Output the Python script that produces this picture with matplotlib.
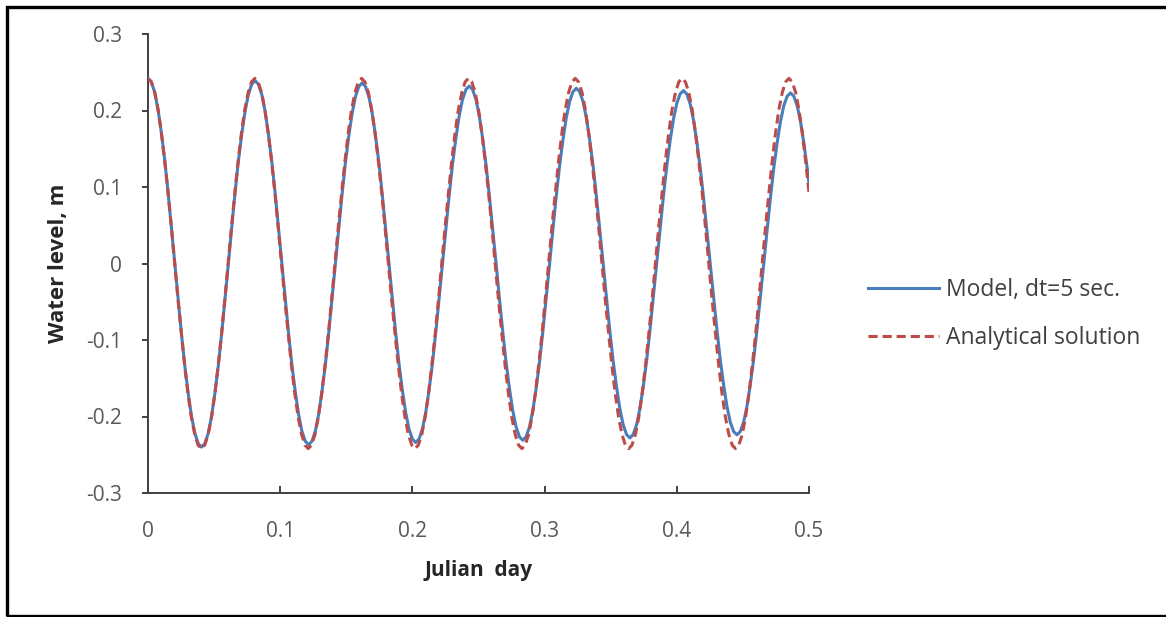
import matplotlib
matplotlib.use("Agg")
import matplotlib.pyplot as plt
from matplotlib.patches import Rectangle

plt.rcParams['font.family'] = ['Open Sans', 'DejaVu Sans']

# model output, dt = 5 s
model_t = [
    0.0000, 0.0025, 0.0051, 0.0076, 0.0101, 0.0127, 0.0152, 0.0177,
    0.0203, 0.0228, 0.0253, 0.0278, 0.0304, 0.0329, 0.0354, 0.0380,
    0.0405, 0.0430, 0.0456, 0.0481, 0.0506, 0.0532, 0.0557, 0.0582,
    0.0608, 0.0633, 0.0658, 0.0683, 0.0709, 0.0734, 0.0759, 0.0785,
    0.0810, 0.0835, 0.0861, 0.0886, 0.0911, 0.0937, 0.0962, 0.0987,
    0.1013, 0.1038, 0.1063, 0.1088, 0.1114, 0.1139, 0.1164, 0.1190,
    0.1215, 0.1240, 0.1266, 0.1291, 0.1316, 0.1342, 0.1367, 0.1392,
    0.1418, 0.1443, 0.1468, 0.1493, 0.1519, 0.1544, 0.1569, 0.1595,
    0.1620, 0.1645, 0.1671, 0.1696, 0.1721, 0.1747, 0.1772, 0.1797,
    0.1823, 0.1848, 0.1873, 0.1898, 0.1924, 0.1949, 0.1974, 0.2000,
    0.2025, 0.2050, 0.2076, 0.2101, 0.2126, 0.2152, 0.2177, 0.2202,
    0.2228, 0.2253, 0.2278, 0.2303, 0.2329, 0.2354, 0.2379, 0.2405,
    0.2430, 0.2455, 0.2481, 0.2506, 0.2531, 0.2557, 0.2582, 0.2607,
    0.2633, 0.2658, 0.2683, 0.2708, 0.2734, 0.2759, 0.2784, 0.2810,
    0.2835, 0.2860, 0.2886, 0.2911, 0.2936, 0.2962, 0.2987, 0.3012,
    0.3038, 0.3063, 0.3088, 0.3113, 0.3139, 0.3164, 0.3189, 0.3215,
    0.3240, 0.3265, 0.3291, 0.3316, 0.3341, 0.3367, 0.3392, 0.3417,
    0.3443, 0.3468, 0.3493, 0.3518, 0.3544, 0.3569, 0.3594, 0.3620,
    0.3645, 0.3670, 0.3696, 0.3721, 0.3746, 0.3772, 0.3797, 0.3822,
    0.3848, 0.3873, 0.3898, 0.3923, 0.3949, 0.3974, 0.3999, 0.4025,
    0.4050, 0.4075, 0.4101, 0.4126, 0.4151, 0.4177, 0.4202, 0.4227,
    0.4253, 0.4278, 0.4303, 0.4328, 0.4354, 0.4379, 0.4404, 0.4430,
    0.4455, 0.4480, 0.4506, 0.4531, 0.4556, 0.4582, 0.4607, 0.4632,
    0.4658, 0.4683, 0.4708, 0.4733, 0.4759, 0.4784, 0.4809, 0.4835,
    0.4860, 0.4885, 0.4911, 0.4936, 0.4961, 0.4987, 0.5000,
]
model_h = [
    0.242, 0.2374, 0.2236, 0.2012, 0.1711, 0.1345, 0.0926, 0.0472, 0.0,
    -0.0468, -0.0918, -0.1333, -0.1697, -0.1996, -0.2217, -0.2354, -0.240,
    -0.2354, -0.2217, -0.1996, -0.1697, -0.1333, -0.0918, -0.0468, 0.0,
    0.0466, 0.0915, 0.1328, 0.1690, 0.1987, 0.2208, 0.2344, 0.239,
    0.2344, 0.2208, 0.1987, 0.1690, 0.1328, 0.0915, 0.0466, 0.0,
    -0.0462, -0.0907, -0.1317, -0.1676, -0.1971, -0.2190, -0.2324, -0.237,
    -0.2324, -0.2190, -0.1971, -0.1676, -0.1317, -0.0907, -0.0462, 0.0,
    0.0460, 0.0903, 0.1311, 0.1669, 0.1962, 0.2180, 0.2315, 0.236,
    0.2315, 0.2180, 0.1962, 0.1669, 0.1311, 0.0903, 0.0460, 0.0,
    -0.0457, -0.0896, -0.1300, -0.1655, -0.1946, -0.2162, -0.2295, -0.234,
    -0.2295, -0.2162, -0.1946, -0.1655, -0.1300, -0.0896, -0.0457, 0.0,
    0.0453, 0.0888, 0.1289, 0.1640, 0.1929, 0.2143, 0.2275, 0.232,
    0.2275, 0.2143, 0.1929, 0.1640, 0.1289, 0.0888, 0.0453, 0.0,
    -0.0451, -0.0884, -0.1283, -0.1633, -0.1921, -0.2134, -0.2266, -0.231,
    -0.2266, -0.2134, -0.1921, -0.1633, -0.1283, -0.0884, -0.0451, 0.0,
    0.0447, 0.0876, 0.1272, 0.1619, 0.1904, 0.2116, 0.2246, 0.229,
    0.2246, 0.2116, 0.1904, 0.1619, 0.1272, 0.0876, 0.0447, 0.0,
    -0.0445, -0.0873, -0.1267, -0.1612, -0.1896, -0.2106, -0.2236, -0.228,
    -0.2236, -0.2106, -0.1896, -0.1612, -0.1267, -0.0873, -0.0445, 0.0,
    0.0441, 0.0865, 0.1256, 0.1598, 0.1879, 0.2088, 0.2217, 0.226,
    0.2217, 0.2088, 0.1879, 0.1598, 0.1256, 0.0865, 0.0441, 0.0,
    -0.0437, -0.0857, -0.1245, -0.1584, -0.1863, -0.2070, -0.2197, -0.224,
    -0.2197, -0.2070, -0.1863, -0.1584, -0.1245, -0.0857, -0.0437, 0.0,
    0.0435, 0.0853, 0.1239, 0.1577, 0.1854, 0.2060, 0.2187, 0.223,
    0.2187, 0.2060, 0.1854, 0.1577, 0.1239, 0.104,
]

# analytical solution
exact_t = [
    0.0000, 0.0025, 0.0051, 0.0076, 0.0101, 0.0126, 0.0152, 0.0177,
    0.0202, 0.0227, 0.0253, 0.0278, 0.0303, 0.0328, 0.0354, 0.0379,
    0.0404, 0.0429, 0.0455, 0.0480, 0.0505, 0.0530, 0.0556, 0.0581,
    0.0606, 0.0631, 0.0657, 0.0682, 0.0707, 0.0732, 0.0758, 0.0783,
    0.0808, 0.0833, 0.0859, 0.0884, 0.0909, 0.0934, 0.0960, 0.0985,
    0.1010, 0.1035, 0.1061, 0.1086, 0.1111, 0.1136, 0.1162, 0.1187,
    0.1212, 0.1237, 0.1263, 0.1288, 0.1313, 0.1338, 0.1364, 0.1389,
    0.1414, 0.1439, 0.1465, 0.1490, 0.1515, 0.1540, 0.1566, 0.1591,
    0.1616, 0.1641, 0.1667, 0.1692, 0.1717, 0.1742, 0.1768, 0.1793,
    0.1818, 0.1843, 0.1869, 0.1894, 0.1919, 0.1944, 0.1970, 0.1995,
    0.2020, 0.2045, 0.2071, 0.2096, 0.2121, 0.2146, 0.2172, 0.2197,
    0.2222, 0.2247, 0.2273, 0.2298, 0.2323, 0.2348, 0.2374, 0.2399,
    0.2424, 0.2449, 0.2475, 0.2500, 0.2525, 0.2550, 0.2576, 0.2601,
    0.2626, 0.2651, 0.2677, 0.2702, 0.2727, 0.2752, 0.2778, 0.2803,
    0.2828, 0.2853, 0.2879, 0.2904, 0.2929, 0.2954, 0.2980, 0.3005,
    0.3030, 0.3055, 0.3081, 0.3106, 0.3131, 0.3156, 0.3182, 0.3207,
    0.3232, 0.3257, 0.3283, 0.3308, 0.3333, 0.3358, 0.3384, 0.3409,
    0.3434, 0.3459, 0.3485, 0.3510, 0.3535, 0.3560, 0.3586, 0.3611,
    0.3636, 0.3661, 0.3687, 0.3712, 0.3737, 0.3762, 0.3788, 0.3813,
    0.3838, 0.3863, 0.3889, 0.3914, 0.3939, 0.3964, 0.3990, 0.4015,
    0.4040, 0.4065, 0.4091, 0.4116, 0.4141, 0.4166, 0.4192, 0.4217,
    0.4242, 0.4267, 0.4293, 0.4318, 0.4343, 0.4368, 0.4394, 0.4419,
    0.4444, 0.4469, 0.4495, 0.4520, 0.4545, 0.4570, 0.4596, 0.4621,
    0.4646, 0.4671, 0.4697, 0.4722, 0.4747, 0.4772, 0.4798, 0.4823,
    0.4848, 0.4873, 0.4899, 0.4924, 0.4949, 0.4974, 0.5000,
]
exact_h = [
    0.242, 0.2374, 0.2236, 0.2012, 0.1711, 0.1345, 0.0926, 0.0472,
    0.0, -0.0472, -0.0926, -0.1345, -0.1711, -0.2012, -0.2236, -0.2374,
    -0.242, -0.2374, -0.2236, -0.2012, -0.1711, -0.1345, -0.0926, -0.0472,
    0.0, 0.0472, 0.0926, 0.1345, 0.1711, 0.2012, 0.2236, 0.2374,
    0.242, 0.2374, 0.2236, 0.2012, 0.1711, 0.1345, 0.0926, 0.0472,
    0.0, -0.0472, -0.0926, -0.1345, -0.1711, -0.2012, -0.2236, -0.2374,
    -0.242, -0.2374, -0.2236, -0.2012, -0.1711, -0.1345, -0.0926, -0.0472,
    0.0, 0.0472, 0.0926, 0.1345, 0.1711, 0.2012, 0.2236, 0.2374,
    0.242, 0.2374, 0.2236, 0.2012, 0.1711, 0.1345, 0.0926, 0.0472,
    0.0, -0.0472, -0.0926, -0.1345, -0.1711, -0.2012, -0.2236, -0.2374,
    -0.242, -0.2374, -0.2236, -0.2012, -0.1711, -0.1345, -0.0926, -0.0472,
    0.0, 0.0472, 0.0926, 0.1345, 0.1711, 0.2012, 0.2236, 0.2374,
    0.242, 0.2374, 0.2236, 0.2012, 0.1711, 0.1345, 0.0926, 0.0472,
    0.0, -0.0472, -0.0926, -0.1345, -0.1711, -0.2012, -0.2236, -0.2374,
    -0.242, -0.2374, -0.2236, -0.2012, -0.1711, -0.1345, -0.0926, -0.0472,
    0.0, 0.0472, 0.0926, 0.1345, 0.1711, 0.2012, 0.2236, 0.2374,
    0.242, 0.2374, 0.2236, 0.2012, 0.1711, 0.1345, 0.0926, 0.0472,
    0.0, -0.0472, -0.0926, -0.1345, -0.1711, -0.2012, -0.2236, -0.2374,
    -0.242, -0.2374, -0.2236, -0.2012, -0.1711, -0.1345, -0.0926, -0.0472,
    0.0, 0.0472, 0.0926, 0.1345, 0.1711, 0.2012, 0.2236, 0.2374,
    0.242, 0.2374, 0.2236, 0.2012, 0.1711, 0.1345, 0.0926, 0.0472,
    0.0, -0.0472, -0.0926, -0.1345, -0.1711, -0.2012, -0.2236, -0.2374,
    -0.242, -0.2374, -0.2236, -0.2012, -0.1711, -0.1345, -0.0926, -0.0472,
    0.0, 0.0472, 0.0926, 0.1345, 0.1711, 0.2012, 0.2236, 0.2374,
    0.242, 0.2374, 0.2236, 0.2012, 0.1711, 0.1345, 0.0926,
]

x_ticks = [0, 0.1, 0.2, 0.3, 0.4, 0.5]
x_labels = ['0', '0.1', '0.2', '0.3', '0.4', '0.5']
y_ticks = [0.3, 0.2, 0.1, 0, -0.1, -0.2, -0.3]
y_labels = ['0.3', '0.2', '0.1', '0', '-0.1', '-0.2', '-0.3']

W, H = 1166, 617
fig = plt.figure(figsize=(W / 100, H / 100), dpi=100)
ax = fig.add_axes([148 / W, 124 / H, 661 / W, 459 / H])

ax.plot(model_t, model_h, color='#4A7EBB', lw=2.2, solid_joinstyle='round',
        label='Model, dt=5 sec.', zorder=3)
ax.plot(exact_t, exact_h, color='#BE4B48', lw=2.2, dashes=(3, 1.6),
        label='Analytical solution', zorder=4)

ax.set_xlim(0, 0.5)
ax.set_ylim(-0.3, 0.3)
ax.set_xticks(x_ticks)
ax.set_xticklabels(x_labels)
ax.set_yticks(y_ticks)
ax.set_yticklabels(y_labels)

for s in ['top', 'right']:
    ax.spines[s].set_visible(False)
for s in ['left', 'bottom']:
    ax.spines[s].set_color('#404040')
    ax.spines[s].set_linewidth(1.4)

ax.tick_params(axis='y', direction='out', length=4.5, width=1.4, color='#404040',
               pad=14, labelsize=15, labelcolor='#595959')
ax.tick_params(axis='x', direction='in', length=5, width=1.4, color='#404040',
               pad=20, labelsize=15, labelcolor='#595959')

ax.set_xlabel('Julian  day', fontsize=15, fontweight='bold', color='#262626')
ax.xaxis.set_label_coords(0.5, -0.145)
ax.set_ylabel('Water level, m', fontsize=16, fontweight='bold', color='#262626')
ax.yaxis.set_label_coords(-0.119, 0.5)

leg = ax.legend(loc='center left', bbox_to_anchor=(868 / W, 0.491),
                bbox_transform=fig.transFigure, frameon=False, fontsize=16.5,
                handlelength=3.1, handletextpad=0.3, labelspacing=1.05,
                borderpad=0, borderaxespad=0)
for txt in leg.get_texts():
    txt.set_color('#404040')

# outer frame of the picture
fig.patches.append(Rectangle((6.5 / W, 1.5 / H), 1.02, 609 / H, fill=False,
                             ec='black', lw=2.4, transform=fig.transFigure,
                             clip_on=False))

fig.savefig('out.png', dpi=100)
